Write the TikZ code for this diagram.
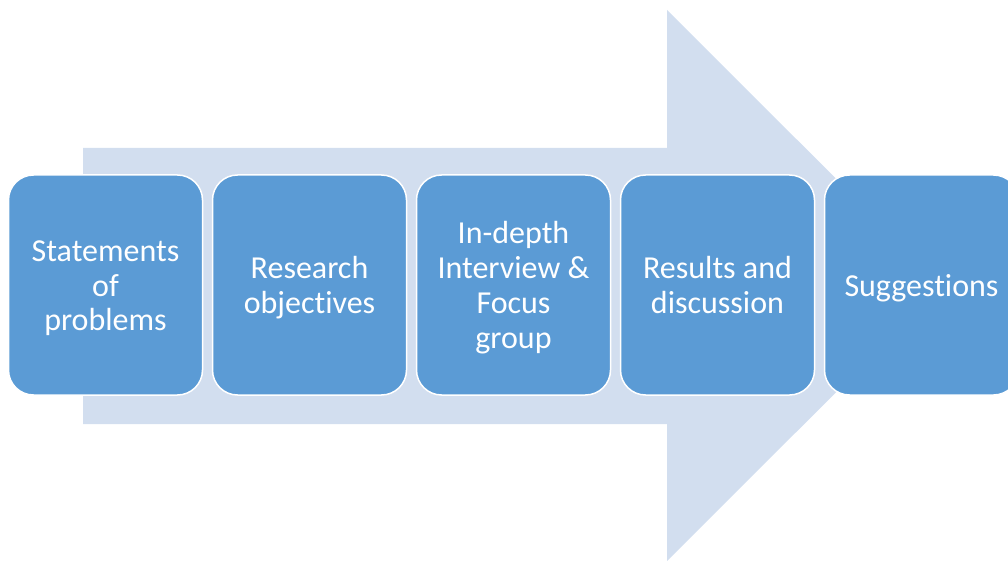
\documentclass[tikz,border=0pt]{standalone}
\usepackage{fontspec}
\setmainfont{Carlito}[Ligatures=NoCommon]
\usepackage{tikz}
\usetikzlibrary{positioning}

\definecolor{stepblue}{HTML}{5B9BD5}
\definecolor{arrowpale}{HTML}{D2DEEF}

% fixed line box, so that every label is centred the same way
\newcommand{\linestrut}{\rule[-9pt]{0pt}{40pt}}
\newcommand{\stepfont}{\fontsize{32pt}{35pt}\selectfont\lineskiplimit-20pt\relax}

\tikzset{
  stepbox/.style={
    draw=white, line width=1.5pt, fill=stepblue,
    rounded corners=25pt,
    minimum width=194pt, minimum height=220pt,
    text width=184pt, align=flush center, text=white,
    inner sep=0pt,
    execute at begin node=\linestrut, execute at end node=\linestrut,
    font=\stepfont
  }
}

\begin{document}
\begin{tikzpicture}[x=1pt,y=-1pt,node distance=8.5pt]
	\clip (0,0) rectangle (1008,561);
	\useasboundingbox (0,0) rectangle (1008,561);
	%Background arrow
	\fill[arrowpale]
		(83,148) -- (667,148) -- (667,10) -- (943,285.5)
		-- (667,561) -- (667,424) -- (83,424) -- cycle;
	%Nodes
	\node[stepbox] (S1) at (105.5,285) {Statements\\of\\problems};
	\node[stepbox, right=of S1] (S2) {Research\\objectives};
	\node[stepbox, right=of S2] (S3) {In-depth\\Interview \&\\Focus\\group};
	\node[stepbox, right=of S3] (S4) {Results and\\discussion};
	\node[stepbox, right=of S4] (S5) {Suggestions};
\end{tikzpicture}
\end{document}
